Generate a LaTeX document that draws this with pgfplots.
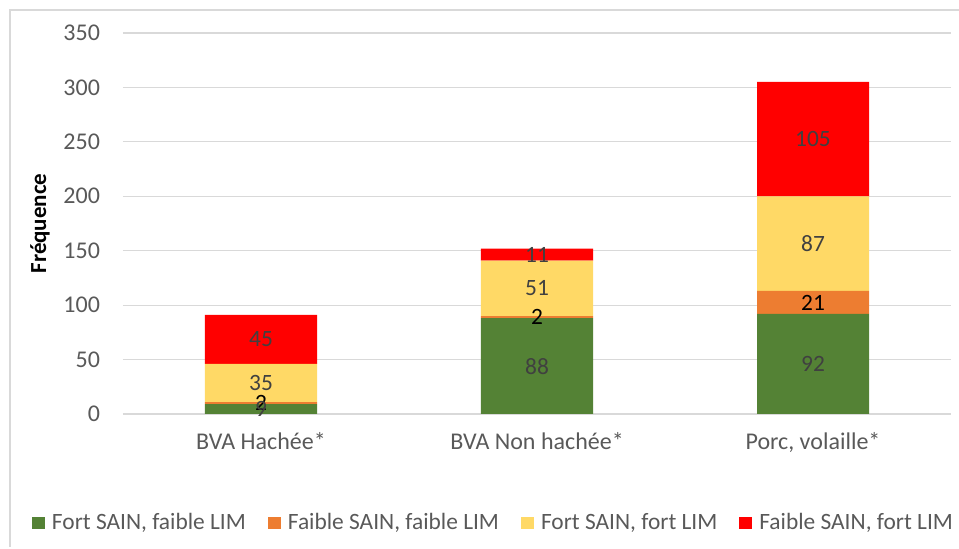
\documentclass[border=0pt]{standalone}
\usepackage{pgfplots}
\pgfplotsset{compat=1.18}
\usepackage{pgfplotstable}
\usepackage{fontspec}
\setmainfont{Carlito}
\definecolor{cgreen}{HTML}{548235}
\definecolor{corange}{HTML}{ED7D31}
\definecolor{cyellow}{HTML}{FFD966}
\definecolor{cred}{HTML}{FF0000}
\definecolor{txtgray}{HTML}{595959}
\definecolor{lblgray}{HTML}{404040}
\definecolor{gridgray}{HTML}{D9D9D9}

% x: categorie, g: fort SAIN faible LIM, o: faible SAIN faible LIM,
% y: fort SAIN fort LIM, r: faible SAIN fort LIM
\pgfplotstableread{
x g o y r
0 9 2 35 45
1 88 2 51 11
2 92 21 87 105
}\data

\begin{document}
\begin{tikzpicture}
\useasboundingbox (-61.5pt,-67.5pt) rectangle (418pt,207pt);
\draw[gridgray, line width=0.6pt] (-56.5pt,-66.5pt) -- (-56.5pt,202pt) -- (420pt,202pt);
\begin{axis}[
    at={(0,0)}, anchor=south west,
    scale only axis,
    width=414pt, height=190.5pt,
    xmin=-0.5, xmax=2.5, ymin=0, ymax=350,
    ybar stacked, bar width=56pt,
    xtick={0,1,2},
    xticklabels={BVA Hachée*, BVA Non hachée*, {Porc, volaille*}},
    ytick={0,50,...,350},
    ymajorgrids,
    grid style={gridgray, line width=0.6pt},
    axis x line*=bottom, axis y line*=left,
    x axis line style={gridgray, line width=0.6pt, -},
    y axis line style={draw=none},
    major tick length=0pt,
    tick label style={font=\fontsize{12}{14}\selectfont, color=txtgray},
    /pgf/number format/assume math mode=true,
    yticklabel style={xshift=-8pt},
    xticklabel style={yshift=-5.5pt},
    ylabel={\textbf{Fréquence}},
    every axis y label/.style={at={(axis description cs:-0.1002,0.5)}, rotate=90, anchor=center, font=\fontsize{11.5}{13}\selectfont},
    legend style={at={(axis description cs:-0.1104,-0.286)}, anchor=west,
        legend columns=4, draw=none, fill=none, inner sep=0pt,
        font=\fontsize{11.7}{13}\selectfont, text=txtgray,
        nodes={inner sep=1pt},
        /tikz/every odd column/.append style={column sep=2.5pt},
        /tikz/every even column/.append style={column sep=10pt}},
    legend image code/.code={\fill[#1,draw=none] (0pt,-3.2pt) rectangle (6.5pt,3.2pt);},
    nodes near coords,
    point meta=rawy,
    every node near coord/.append style={font=\fontsize{11.7}{13}\selectfont, anchor=center, color=lblgray},
]
\addplot[fill=cgreen, draw=none] table[x=x, y=g] {\data};
\addlegendentry{Fort SAIN, faible LIM}
\addplot[fill=corange, draw=none,
    every node near coord/.append style={color=black}] table[x=x, y=o] {\data};
\addlegendentry{Faible SAIN, faible LIM}
\addplot[fill=cyellow, draw=none] table[x=x, y=y] {\data};
\addlegendentry{Fort SAIN, fort LIM}
\addplot[fill=cred, draw=none] table[x=x, y=r] {\data};
\addlegendentry{Faible SAIN, fort LIM}
\end{axis}
\end{tikzpicture}
\end{document}
